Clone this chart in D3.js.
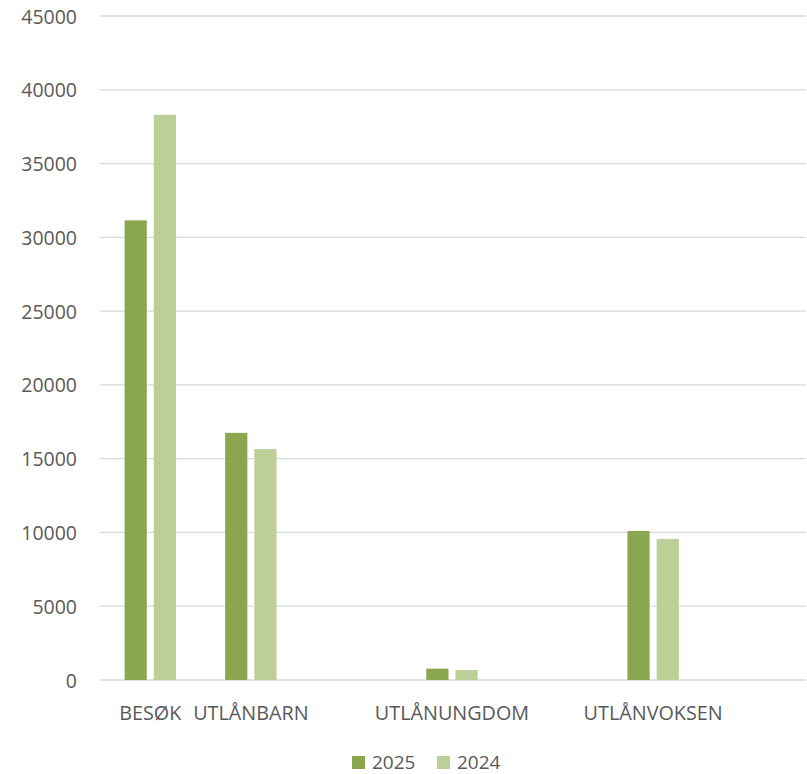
<!DOCTYPE html>
<html>
<head>
<meta charset="utf-8">
<script src="https://cdn.jsdelivr.net/npm/d3@7"></script>
<style>
  body { margin: 0; background: #fff; }
  svg text { font-family: "Open Sans", sans-serif; fill: #595959; }
</style>
</head>
<body>
<div id="chart"></div>
<script>
// Categories (blank slots are empty categories in the source sheet)
const categories = ['BESØK', 'UTLÅNBARN', '', 'UTLÅNUNGDOM', '', 'UTLÅNVOKSEN', ''];
const seriesNames = ['2025', '2024'];
const values2025 = [31150, 16750, null, 770, null, 10100, null];
const values2024 = [38300, 15650, null, 680, null, 9560, null];
const yTicks = [0, 5000, 10000, 15000, 20000, 25000, 30000, 35000, 40000, 45000];
const colors = ['#8aa64f', '#bbcf97'];

const width = 807, height = 774;
const margin = { top: 16, right: 3, bottom: 94, left: 100 };

const svg = d3.select('#chart')
  .append('svg')
  .attr('width', width)
  .attr('height', height);

const x = d3.scaleBand()
  .domain(d3.range(categories.length))
  .range([margin.left, width - margin.right]);

const y = d3.scaleLinear()
  .domain([0, 45000])
  .range([height - margin.bottom, margin.top]);

// Gridlines
svg.append('g')
  .selectAll('line')
  .data(yTicks)
  .join('line')
  .attr('x1', margin.left)
  .attr('x2', width - margin.right + 2)
  .attr('y1', d => y(d))
  .attr('y2', d => y(d))
  .attr('stroke', '#d9d9d9')
  .attr('stroke-width', 1.3);

// Y tick labels
svg.append('g')
  .selectAll('text')
  .data(yTicks)
  .join('text')
  .attr('x', 77)
  .attr('y', d => y(d))
  .attr('text-anchor', 'end')
  .attr('dominant-baseline', 'central')
  .attr('font-size', 19.5)
  .text(d => d);

// Bars
const inner = d3.scaleBand()
  .domain(seriesNames)
  .range([-25.7, 25.7])
  .paddingInner(0.24);

const series = [values2025, values2024];
const barData = [];
series.forEach((vals, s) => {
  vals.forEach((v, i) => {
    if (v !== null) barData.push({ i, s, v });
  });
});

svg.append('g')
  .selectAll('rect')
  .data(barData)
  .join('rect')
  .attr('x', d => x(d.i) + x.bandwidth() / 2 + inner(seriesNames[d.s]))
  .attr('width', inner.bandwidth())
  .attr('y', d => y(d.v))
  .attr('height', d => y(0) - y(d.v))
  .attr('fill', d => colors[d.s]);

// Category labels
svg.append('g')
  .selectAll('text')
  .data(categories.map((c, i) => ({ c, i })).filter(d => d.c))
  .join('text')
  .attr('x', d => x(d.i) + x.bandwidth() / 2)
  .attr('y', 720)
  .attr('text-anchor', 'middle')
  .attr('font-size', 19.8)
  .text(d => d.c);

// Legend
const legendX = [352, 437];
const legend = svg.append('g')
  .selectAll('g')
  .data(seriesNames)
  .join('g')
  .attr('transform', (d, i) => `translate(${legendX[i]},756)`);

legend.append('rect')
  .attr('width', 13)
  .attr('height', 13)
  .attr('fill', (d, i) => colors[i]);

legend.append('text')
  .attr('x', 20)
  .attr('y', 12.5)
  .attr('font-size', 19)
  .text(d => d);
</script>
</body>
</html>
